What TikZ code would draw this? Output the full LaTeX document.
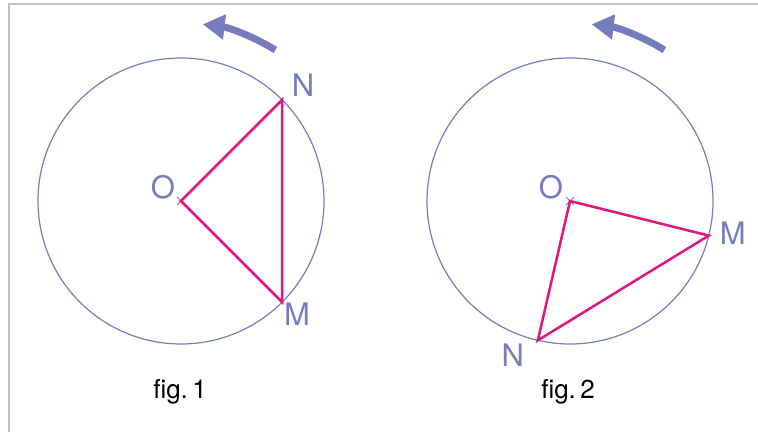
\documentclass[tikz,border=0pt]{standalone}
\usepackage{fontspec}
\setmainfont{TeX Gyre Heros}
\usepackage{tikz}
\usetikzlibrary{arrows.meta}

\definecolor{ringblue}{RGB}{118,124,190}
\definecolor{chordpink}{RGB}{222,22,128}
\definecolor{framegray}{RGB}{200,188,190}
\definecolor{crossgray}{RGB}{120,128,160}

\tikzset{
  ring/.style={draw=ringblue,line width=0.6pt},
  chord/.style={draw=chordpink,line width=1.25pt,line join=miter},
  centremark/.style={draw=crossgray,line width=0.5pt},
  turn/.style={draw=ringblue,line width=3.5pt,-{Triangle[length=11pt,width=12pt]}},
  ptlabel/.style={text=ringblue,font=\fontsize{15.5}{15.5}\selectfont,inner sep=0pt},
  caption/.style={font=\fontsize{13}{13}\selectfont,inner sep=0pt}
}

\begin{document}
\begin{tikzpicture}[x=0.5pt,y=0.5pt]
  \useasboundingbox (0,0) rectangle (758,432);
  \draw[framegray,line width=0.6pt] (9,0) -- (9,428) -- (758,428);

  % fig. 1
  \coordinate (O1) at (181,231);
  \path (O1) ++(45:71.5pt) coordinate (N1);
  \path (O1) ++(-45:71.5pt) coordinate (M1);
  \draw[ring] (O1) circle[radius=71.5pt];
  \draw[centremark] ([shift={(-4,-4)}]O1) -- ([shift={(4,4)}]O1)
    ([shift={(-4,4)}]O1) -- ([shift={(4,-4)}]O1);
  \draw[chord] (O1) -- (N1) -- (M1) -- cycle;
  \node[ptlabel] (lO1) at ([shift={(-18,14)}]O1) {O};
  \node[ptlabel] (lN1) at ([shift={(21,15)}]N1) {N};
  \node[ptlabel] (lM1) at ([shift={(15,-12)}]M1) {M};
  \draw[turn] ([shift={(58:89pt)}]O1) arc[start angle=58,end angle=83,radius=89pt];
  \node[caption] (cap1) at (180,40) {fig.\,1};

  % fig. 2
  \coordinate (O2) at (570,231);
  \path (O2) ++(-14:71.5pt) coordinate (M2);
  \path (O2) ++(-103:71.5pt) coordinate (N2);
  \draw[ring] (O2) circle[radius=71.5pt];
  \draw[centremark] ([shift={(-4,-4)}]O2) -- ([shift={(4,4)}]O2)
    ([shift={(-4,4)}]O2) -- ([shift={(4,-4)}]O2);
  \draw[chord] (O2) -- (M2) -- (N2) -- cycle;
  \node[ptlabel] (lO2) at ([shift={(-19,14)}]O2) {O};
  \node[ptlabel] (lM2) at ([shift={(24,2)}]M2) {M};
  \node[ptlabel] (lN2) at ([shift={(-25,-15)}]N2) {N};
  \draw[turn] ([shift={(58:89pt)}]O2) arc[start angle=58,end angle=83,radius=89pt];
  \node[caption] (cap2) at (568,40) {fig.\,2};
\end{tikzpicture}
\end{document}
